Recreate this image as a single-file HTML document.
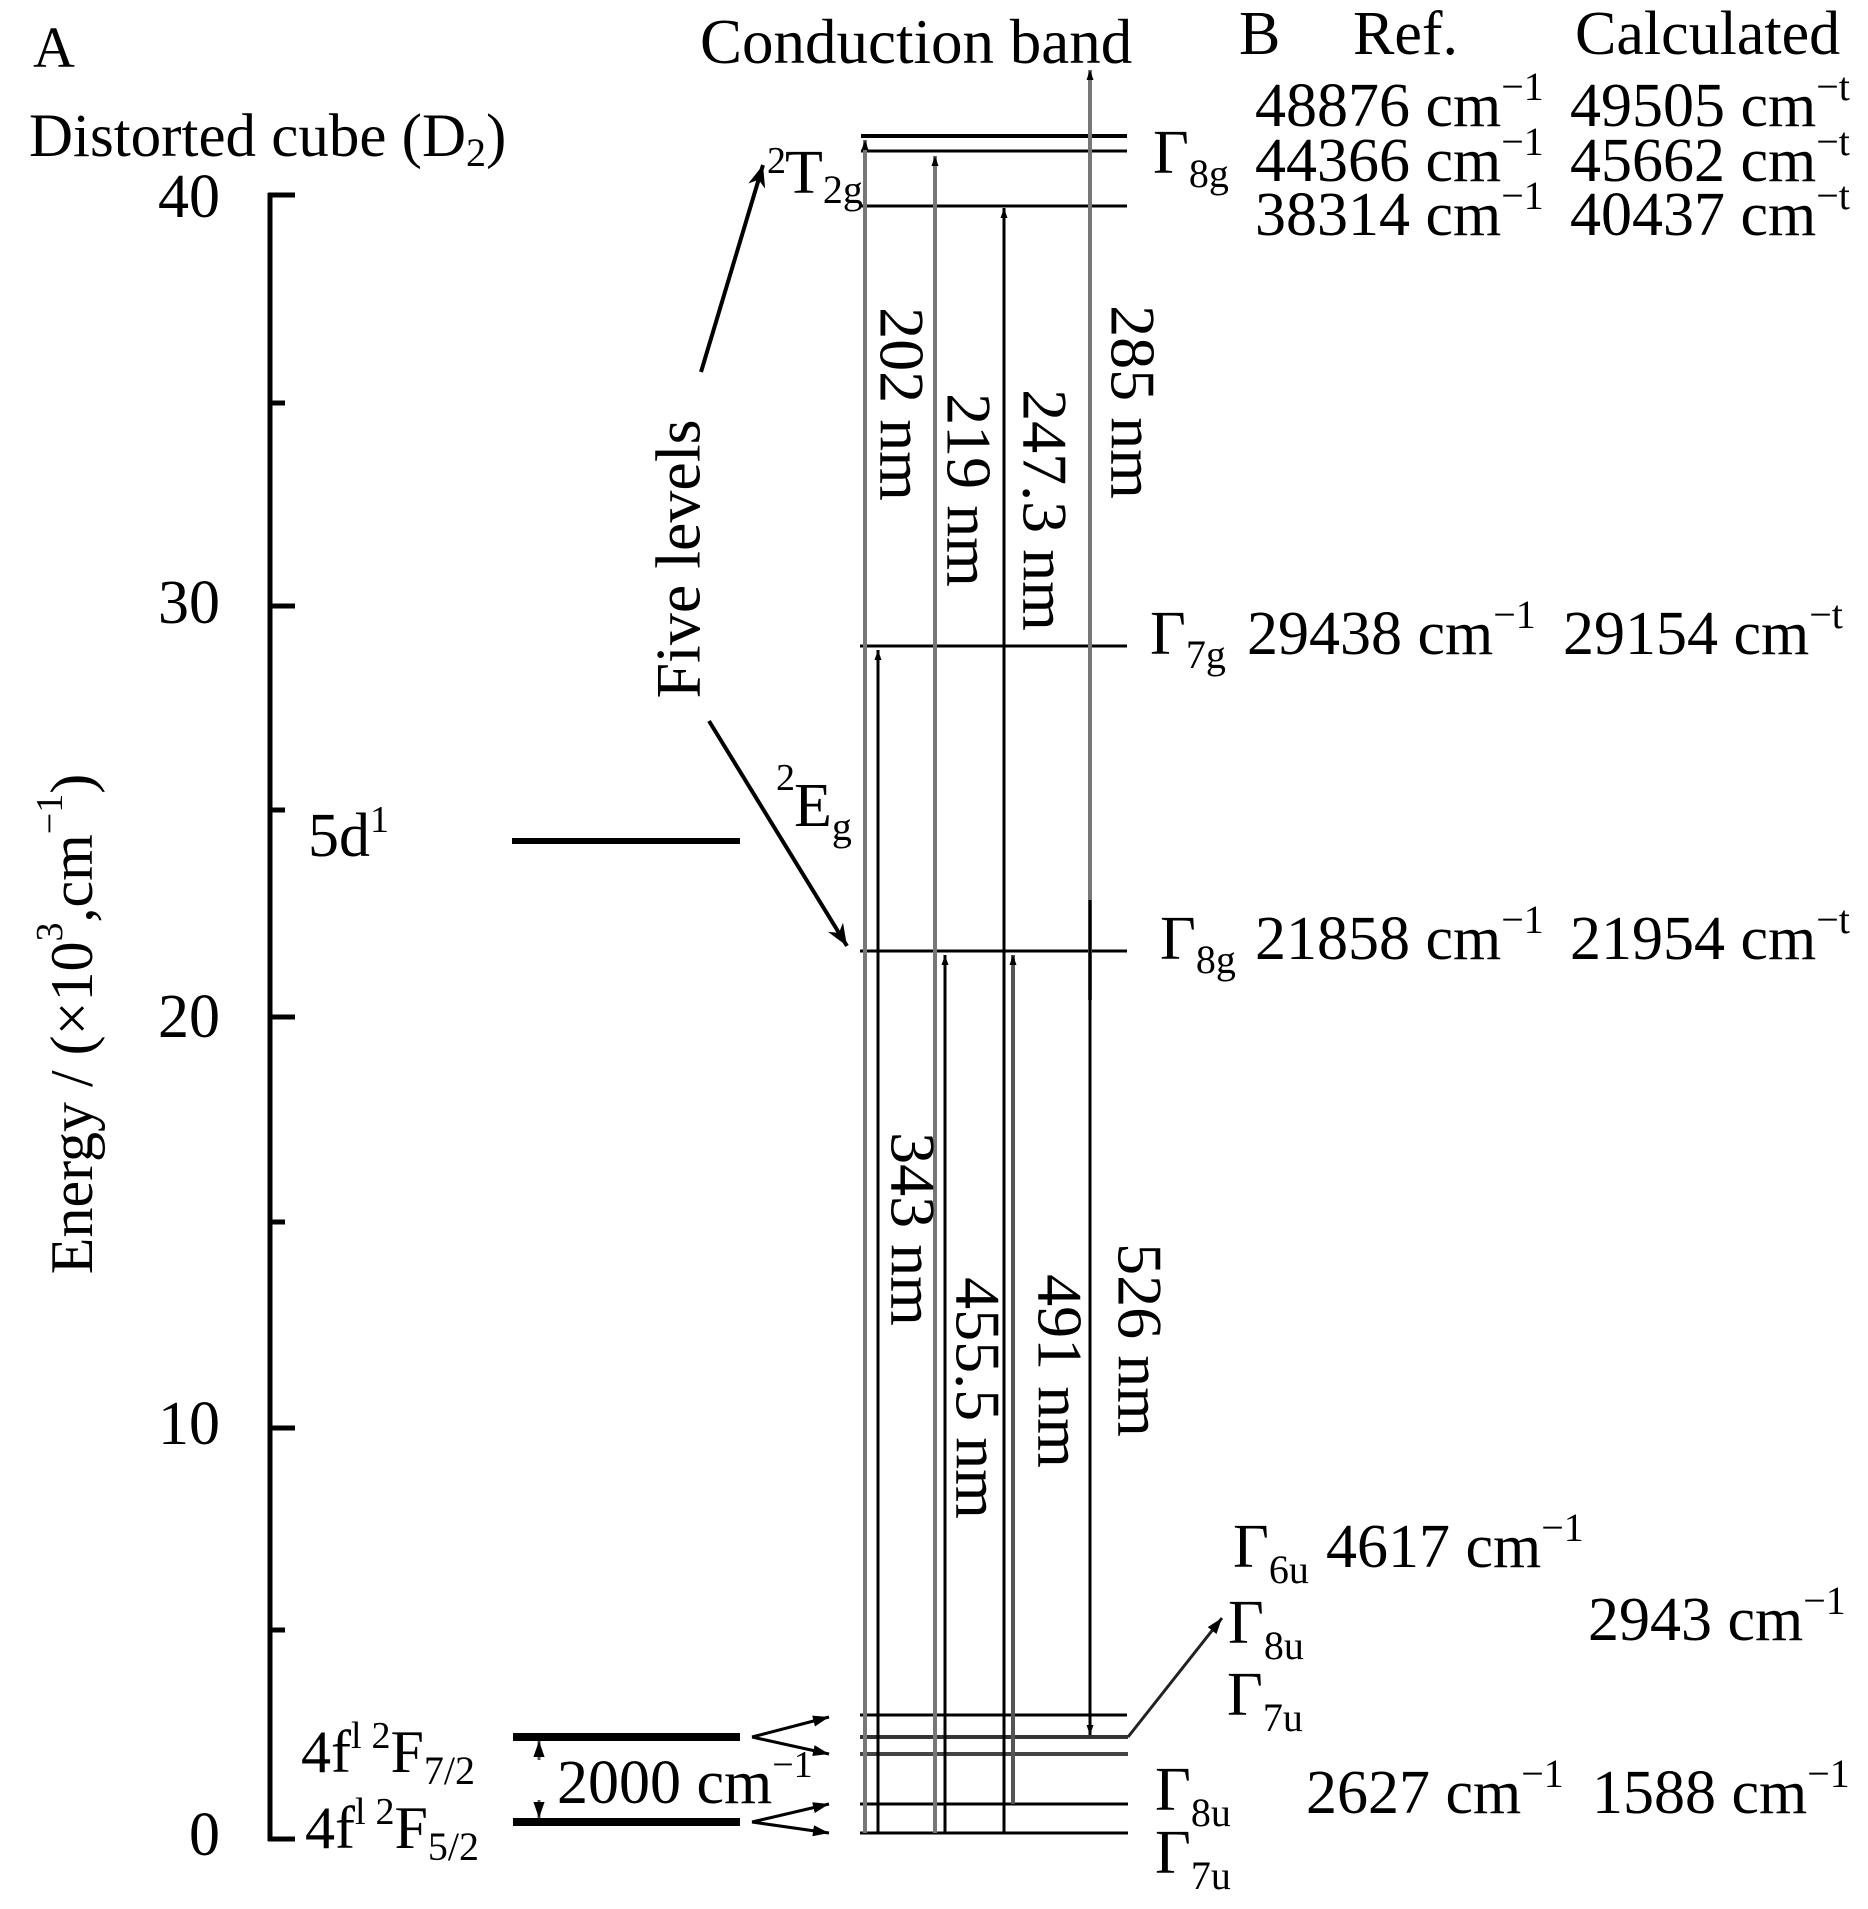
<!DOCTYPE html>
<html><head><meta charset="utf-8"><style>
html,body{margin:0;padding:0;background:#fff;}
svg{display:block;}
text{font-family:"Liberation Serif","DejaVu Serif",serif;fill:#000;}
</style></head><body>
<svg width="1868" height="1909" viewBox="0 0 1868 1909" xmlns="http://www.w3.org/2000/svg">
<defs>
<marker id="ah" viewBox="0 0 10 10" refX="10" refY="5" markerWidth="10" markerHeight="10" markerUnits="userSpaceOnUse" orient="auto"><path d="M0,1.5 L10,5 L0,8.5 Z" fill="#000"/></marker>
<marker id="ahb" viewBox="0 0 10 10" refX="10" refY="5" markerWidth="22" markerHeight="22" markerUnits="userSpaceOnUse" orient="auto"><path d="M0,1 L10,5 L0,9 L3,5 Z" fill="#000"/></marker>
<marker id="ahm" viewBox="0 0 10 10" refX="10" refY="5" markerWidth="16" markerHeight="16" markerUnits="userSpaceOnUse" orient="auto"><path d="M0,1.5 L10,5 L0,8.5 Z" fill="#000"/></marker>
</defs>

<g stroke="#000" stroke-width="5" fill="none">
<line x1="270" y1="193" x2="270" y2="1841"/>
<line x1="268" y1="195" x2="295" y2="195"/>
<line x1="268" y1="403" x2="285" y2="403"/>
<line x1="268" y1="606" x2="295" y2="606"/>
<line x1="268" y1="810" x2="285" y2="810"/>
<line x1="268" y1="1017" x2="295" y2="1017"/>
<line x1="268" y1="1222" x2="285" y2="1222"/>
<line x1="268" y1="1428" x2="295" y2="1428"/>
<line x1="268" y1="1630" x2="285" y2="1630"/>
<line x1="268" y1="1839" x2="295" y2="1839"/>
</g>
<g font-size="62" text-anchor="end">
<text x="220" y="217">40</text>
<text x="220" y="623">30</text>
<text x="220" y="1037">20</text>
<text x="220" y="1444">10</text>
<text x="220" y="1855">0</text>
</g>
<text x="33" y="67" font-size="58">A</text>
<text x="29" y="156" font-size="61">Distorted cube (D<tspan font-size="40" dy="10">2</tspan><tspan dy="-10">)</tspan></text>
<text font-size="60" text-anchor="middle" transform="translate(72,1024) rotate(-90)" dominant-baseline="central">Energy / (×10<tspan font-size="38" dy="-22">3</tspan><tspan dy="22">,cm</tspan><tspan font-size="38" dy="-22">−1</tspan><tspan dy="22">)</tspan></text>

<text x="308" y="856" font-size="62">5d<tspan font-size="38" dy="-24">1</tspan></text>
<line x1="512" y1="841" x2="740" y2="841" stroke="#000" stroke-width="6"/>

<line x1="513" y1="1737" x2="740" y2="1737" stroke="#000" stroke-width="8"/>
<line x1="513" y1="1822" x2="740" y2="1822" stroke="#000" stroke-width="8"/>
<line x1="539" y1="1760" x2="539" y2="1741" stroke="#555" stroke-width="3" marker-end="url(#ahm)"/>
<line x1="539" y1="1800" x2="539" y2="1818" stroke="#555" stroke-width="3" marker-end="url(#ahm)"/>
<text x="301" y="1772" font-size="60">4f<tspan font-size="38" dy="-24">l</tspan><tspan font-size="38" dx="10">2</tspan><tspan dy="24">F</tspan><tspan font-size="40" dy="12">7/2</tspan></text>
<text x="305" y="1848" font-size="60">4f<tspan font-size="38" dy="-24">l</tspan><tspan font-size="38" dx="10">2</tspan><tspan dy="24">F</tspan><tspan font-size="40" dy="12">5/2</tspan></text>
<text x="557" y="1803" font-size="62">2000 cm<tspan font-size="38" dy="-26">−1</tspan></text>
<g stroke="#000" stroke-width="3">
<line x1="752" y1="1737" x2="829" y2="1717" marker-end="url(#ahm)"/>
<line x1="752" y1="1737" x2="829" y2="1754" marker-end="url(#ahm)"/>
<line x1="752" y1="1822" x2="829" y2="1804" marker-end="url(#ahm)"/>
<line x1="752" y1="1822" x2="829" y2="1833" marker-end="url(#ahm)"/>
</g>

<g stroke="#000" stroke-width="3">
<line x1="861" y1="136" x2="1127" y2="136" stroke-width="4"/>
<line x1="861" y1="151" x2="1127" y2="151"/>
<line x1="861" y1="206" x2="1127" y2="206"/>
<line x1="860" y1="646" x2="1127" y2="646"/>
<line x1="860" y1="951" x2="1127" y2="951"/>
<line x1="860" y1="1715" x2="1127" y2="1715"/>
<line x1="860" y1="1737" x2="1128" y2="1737" stroke="#333" stroke-width="4"/>
<line x1="860" y1="1754" x2="1128" y2="1754" stroke="#444" stroke-width="4"/>
<line x1="860" y1="1804" x2="1128" y2="1804"/>
<line x1="860" y1="1833" x2="1128" y2="1833"/>
</g>

<g stroke-width="3" fill="none">
<line x1="865" y1="1833" x2="865" y2="140" stroke="#777" stroke-width="4" marker-end="url(#ah)"/>
<line x1="878" y1="1833" x2="878" y2="650" stroke="#000" marker-end="url(#ah)"/>
<line x1="935" y1="1833" x2="935" y2="156" stroke="#777" stroke-width="4" marker-end="url(#ah)"/>
<line x1="945" y1="1833" x2="945" y2="955" stroke="#000" marker-end="url(#ah)"/>
<line x1="1004" y1="1833" x2="1004" y2="208" stroke="#000" marker-end="url(#ah)"/>
<line x1="1013" y1="1804" x2="1013" y2="955" stroke="#555" stroke-width="4" marker-end="url(#ah)"/>
<line x1="1090" y1="1000" x2="1090" y2="70" stroke="#777" stroke-width="4" marker-end="url(#ah)"/>
<line x1="1090" y1="900" x2="1090" y2="1735" stroke="#000" marker-end="url(#ah)"/>
</g>

<g font-size="64" text-anchor="middle" dominant-baseline="central">
<text transform="translate(902,404) rotate(90)">202 nm</text>
<text transform="translate(969,490) rotate(90)">219 nm</text>
<text transform="translate(1045,510) rotate(90)">247.3 nm</text>
<text transform="translate(1133,402) rotate(90)">285 nm</text>
<text transform="translate(913,1229) rotate(90)">343 nm</text>
<text transform="translate(978,1398) rotate(90)">455.5 nm</text>
<text transform="translate(1060,1371) rotate(90)">491 nm</text>
<text transform="translate(1140,1340) rotate(90)">526 nm</text>
<text transform="translate(678,559) rotate(-90)">Five levels</text>
</g>

<line x1="701" y1="372" x2="763" y2="165" stroke="#000" stroke-width="4" marker-end="url(#ahb)"/>
<line x1="709" y1="721" x2="847" y2="946" stroke="#000" stroke-width="4" marker-end="url(#ahb)"/>
<text x="767" y="173" font-size="38">2</text>
<text x="785" y="193" font-size="62">T<tspan font-size="40" dy="10">2g</tspan></text>
<text x="776" y="790" font-size="38">2</text>
<text x="794" y="826" font-size="62">E<tspan font-size="40" dy="14">g</tspan></text>

<text x="700" y="63" font-size="63">Conduction band</text>

<g font-size="62">
<text x="1239" y="54">B</text>
<text x="1353" y="54">Ref.</text>
<text x="1575" y="54">Calculated</text>
<text x="1153" y="173">Γ<tspan font-size="40" dy="14">8g</tspan></text>
<text x="1255" y="126">48876 cm<tspan font-size="40" dy="-26">−1</tspan></text>
<text x="1570" y="126">49505 cm<tspan font-size="40" dy="-26">−t</tspan></text>
<text x="1255" y="181">44366 cm<tspan font-size="40" dy="-26">−1</tspan></text>
<text x="1570" y="181">45662 cm<tspan font-size="40" dy="-26">−t</tspan></text>
<text x="1255" y="235">38314 cm<tspan font-size="40" dy="-26">−1</tspan></text>
<text x="1570" y="235">40437 cm<tspan font-size="40" dy="-26">−t</tspan></text>

<text x="1150" y="654">Γ<tspan font-size="40" dy="14">7g</tspan></text>
<text x="1247" y="654">29438 cm<tspan font-size="40" dy="-26">−1</tspan></text>
<text x="1563" y="654">29154 cm<tspan font-size="40" dy="-26">−t</tspan></text>

<text x="1160" y="959">Γ<tspan font-size="40" dy="14">8g</tspan></text>
<text x="1255" y="959">21858 cm<tspan font-size="40" dy="-26">−1</tspan></text>
<text x="1570" y="959">21954 cm<tspan font-size="40" dy="-26">−t</tspan></text>

<text x="1233" y="1567">Γ<tspan font-size="40" dy="16">6u</tspan></text>
<text x="1326" y="1567">4617 cm<tspan font-size="40" dy="-26">−1</tspan></text>
<text x="1228" y="1643">Γ<tspan font-size="40" dy="16">8u</tspan></text>
<text x="1588" y="1640">2943 cm<tspan font-size="40" dy="-26">−1</tspan></text>
<text x="1227" y="1715">Γ<tspan font-size="40" dy="16">7u</tspan></text>
<text x="1306" y="1813">2627 cm<tspan font-size="40" dy="-26">−1</tspan></text>
<text x="1592" y="1813">1588 cm<tspan font-size="40" dy="-26">−1</tspan></text>
<text x="1155" y="1810">Γ<tspan font-size="40" dy="16">8u</tspan></text>
<text x="1155" y="1873">Γ<tspan font-size="40" dy="16">7u</tspan></text>
</g>
<line x1="1128" y1="1737" x2="1222" y2="1618" stroke="#222" stroke-width="3" marker-end="url(#ahm)"/>
</svg>
</body></html>
